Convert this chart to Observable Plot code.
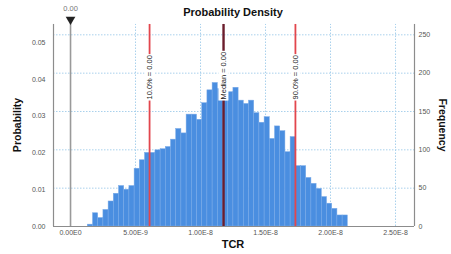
<!DOCTYPE html>
<html>
<head>
<meta charset="utf-8">
<script src="https://cdn.jsdelivr.net/npm/d3@7"></script>
<script src="https://cdn.jsdelivr.net/npm/@observablehq/plot@0.6"></script>
<style>
  html, body { margin: 0; padding: 0; background: #fff; }
  svg { font-family: "Liberation Sans", Arial, sans-serif; }
</style>
</head>
<body>
<div id="chart"></div>
<script>
// ---- data ----
const N = 4800;                       // total frequency (probability = count / N)
const binStart = 1.33e-9;
const binWidth = 0.4e-9;
const probs = [
  0.0005, 0.0036, 0.0023, 0.0045, 0.0068, 0.0089, 0.011, 0.010, 0.011, 0.0157,
  0.018, 0.020, 0.020, 0.0207, 0.021, 0.0216, 0.0236, 0.0265, 0.0253, 0.0304,
  0.0304, 0.029, 0.0335, 0.037, 0.039, 0.0374, 0.0342, 0.0365, 0.0377, 0.0342,
  0.0333, 0.0342, 0.0308, 0.0282, 0.0297, 0.0238, 0.0272, 0.0259, 0.0202, 0.0243,
  0.0164, 0.0164, 0.0132, 0.0116, 0.0102, 0.008, 0.0062, 0.0048, 0.003, 0.003
];
const xTicks = [0, 5e-9, 1e-8, 1.5e-8, 2e-8, 2.5e-8];
const xTickLabels = ["0.00E0", "5.00E-9", "1.00E-8", "1.50E-8", "2.00E-8", "2.50E-8"];
const probTicks = [0, 0.01, 0.02, 0.03, 0.04, 0.05];
const freqTicks = [0, 50, 100, 150, 200, 250];
const pctNames = ["10.0% = 0.00", "Median = 0.00", "90.0% = 0.00"];
const pctValues = [6.08e-9, 11.77e-9, 17.3e-9];
const pctColors = ["#e2464d", "#6b1d2c", "#e2464d"];
const zeroLabel = "0.00";

// ---- derived tables ----
const xDomain = [-1.31e-9, 2.646e-8];
const yDomain = [0, 0.05652];
const yTop = 0.0549;
const bins = probs.map((p, i) => ({x1: binStart + i * binWidth, x2: binStart + (i + 1) * binWidth, p}));
const pct = pctNames.map((name, i) => ({name, value: pctValues[i], color: pctColors[i]}));
const freqPos = freqTicks.map(f => f / N);

const gridColor = "#a9d1ec";
const axisColor = "#8c8c8c";
const tickColor = "#555";

const plot = Plot.plot({
  width: 451,
  height: 254,
  marginTop: 18,
  marginBottom: 28,
  marginLeft: 53,
  marginRight: 37,
  style: {fontFamily: "Liberation Sans, Arial, sans-serif", fontSize: "7px", color: tickColor, background: "#fff"},
  x: {domain: xDomain},
  y: {domain: yDomain},
  marks: [
    // dotted grid
    Plot.ruleY(freqPos, {stroke: gridColor, strokeDasharray: "1.5,1.5", strokeWidth: 1}),
    Plot.ruleX(xTicks.slice(1), {y1: 0, y2: yTop, stroke: gridColor, strokeDasharray: "1.5,1.5", strokeWidth: 1}),
    // histogram bars
    Plot.rect(bins, {x1: "x1", x2: "x2", y1: 0, y2: "p", fill: "#4a8ee0", stroke: "#79aae8", strokeWidth: 0.5}),
    // zero reference line and marker
    Plot.ruleX([0], {y1: 0, y2: yDomain[1], stroke: "#9a9a9a", strokeWidth: 1.6}),
    Plot.dot([0], {x: d => d, y: yDomain[1], symbol: "triangle", rotate: 180, r: 3.6, fill: "#222", stroke: "none", dy: 1}),
    Plot.text([zeroLabel], {x: 0, y: yDomain[1], text: d => d, dy: -10, fill: "#777", fontSize: 7.5}),
    // percentile lines
    Plot.ruleX(pct, {x: "value", y1: 0, y2: yTop, stroke: "color", strokeWidth: d => d.name.startsWith("Median") ? 2.4 : 1.8}),
    Plot.text(pct, {x: "value", y: 0.0345, text: "name", rotate: -90, textAnchor: "start", fill: "#222", fontSize: 7.5, className: "pctlabel"}),
    // axis frame
    Plot.ruleX([xDomain[0], xDomain[1]], {y1: 0, y2: yTop, stroke: axisColor, strokeWidth: 1.2}),
    Plot.ruleY([0], {stroke: axisColor, strokeWidth: 1.2}),
    // axes
    Plot.axisY(probTicks, {anchor: "left", tickFormat: d => d.toFixed(2), tickSize: 0, tickPadding: 8, label: null, fill: tickColor}),
    Plot.axisY(freqPos, {anchor: "right", tickFormat: d => String(Math.round(d * N)), tickSize: 0, tickPadding: 4, label: null, fill: tickColor}),
    Plot.axisX(xTicks, {tickFormat: (d, i) => xTickLabels[i], tickSize: 0, tickPadding: 4, label: null, fill: tickColor})
  ]
});

document.getElementById("chart").appendChild(plot);

// white boxes behind percentile labels
const svg = d3.select(plot);
svg.selectAll(".pctlabel text").each(function () {
  const bb = this.getBBox();
  const rect = document.createElementNS("http://www.w3.org/2000/svg", "rect");
  rect.setAttribute("x", bb.x - 1);
  rect.setAttribute("y", bb.y - 0.5);
  rect.setAttribute("width", bb.width + 2);
  rect.setAttribute("height", bb.height + 1);
  rect.setAttribute("fill", "#fff");
  const t = this.getAttribute("transform");
  if (t) rect.setAttribute("transform", t);
  this.parentNode.insertBefore(rect, this);
});

// titles
const W = 451, H = 254;
svg.append("text").attr("x", 233).attr("y", 16).attr("text-anchor", "middle")
  .attr("font-size", 11).attr("font-weight", "bold").attr("fill", "#111").text("Probability Density");
svg.append("text").attr("transform", "translate(21,125) rotate(-90)").attr("text-anchor", "middle")
  .attr("font-size", 10.5).attr("font-weight", "bold").attr("fill", "#111").text("Probability");
svg.append("text").attr("transform", "translate(439,125) rotate(90)").attr("text-anchor", "middle")
  .attr("font-size", 10.5).attr("font-weight", "bold").attr("fill", "#111").text("Frequency");
svg.append("text").attr("x", 233).attr("y", 248).attr("text-anchor", "middle")
  .attr("font-size", 11).attr("font-weight", "bold").attr("fill", "#111").text("TCR");
</script>
</body>
</html>
